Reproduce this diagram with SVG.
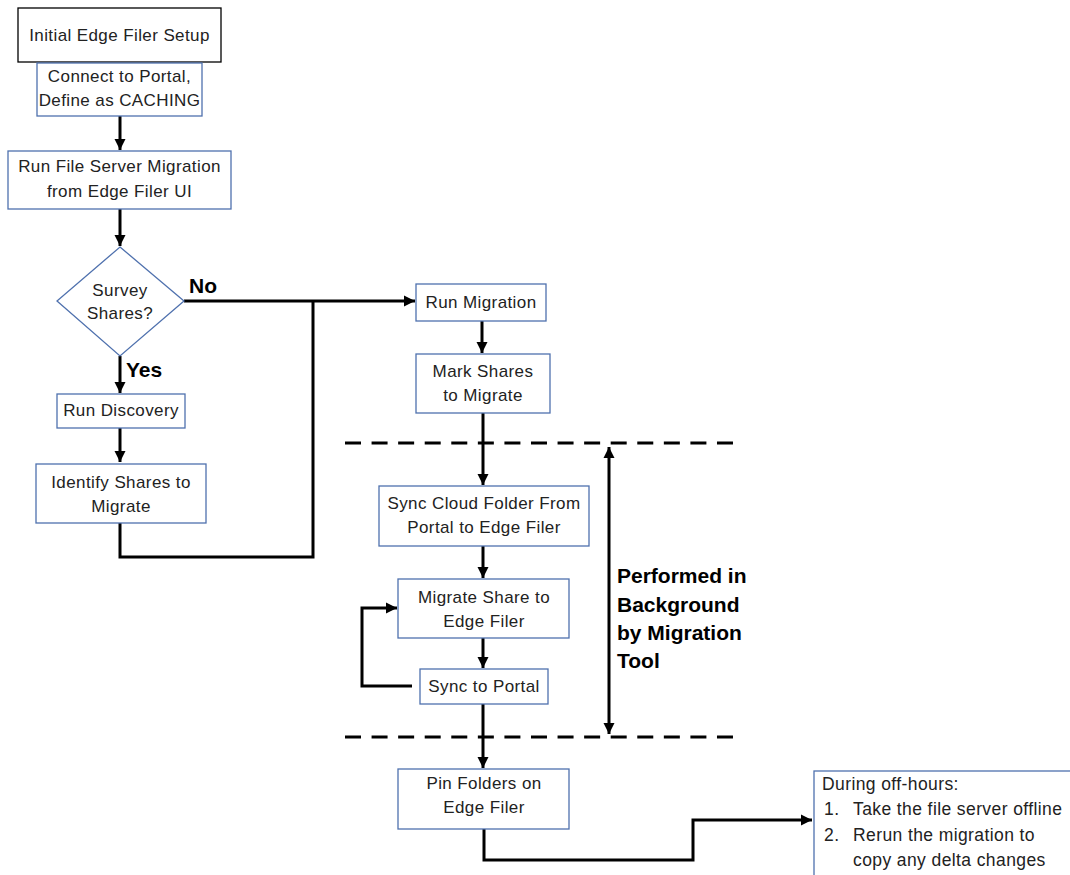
<svg xmlns="http://www.w3.org/2000/svg" width="1070" height="875" viewBox="0 0 1070 875">
<style>
.box{fill:#fff;stroke:#4F71AE;stroke-width:1.3}
.bbox{fill:#fff;stroke:#000;stroke-width:1.3}
.t{font-family:"Liberation Sans",Arial,sans-serif;font-size:17px;letter-spacing:0.4px;fill:#222;text-anchor:middle}
.tl{font-family:"Liberation Sans",Arial,sans-serif;font-size:17.5px;letter-spacing:0.4px;fill:#222}
.b{font-family:"Liberation Sans",Arial,sans-serif;font-size:21px;font-weight:bold;fill:#000}
.c{fill:none;stroke:#000;stroke-width:3}
.d{fill:none;stroke:#000;stroke-width:3;stroke-dasharray:16 10.57}
</style>
<defs>
<marker id="ah" markerUnits="userSpaceOnUse" markerWidth="12" markerHeight="12" refX="11" refY="6" orient="auto">
<path d="M0,0.5 L11,6 L0,11.5 z" fill="#000"/>
</marker>
<marker id="as" markerUnits="userSpaceOnUse" markerWidth="12" markerHeight="12" refX="11" refY="6" orient="auto-start-reverse">
<path d="M0,0.5 L11,6 L0,11.5 z" fill="#000"/>
</marker>
</defs>
<rect width="1070" height="875" fill="#fff"/>
<g id="connectors">
<line class="c" x1="120" y1="116" x2="120" y2="150" marker-end="url(#ah)"/>
<line class="c" x1="120" y1="209" x2="120" y2="246" marker-end="url(#ah)"/>
<line class="c" x1="184" y1="301" x2="415" y2="301" marker-end="url(#ah)"/>
<line class="c" x1="120" y1="356" x2="120" y2="393" marker-end="url(#ah)"/>
<line class="c" x1="120" y1="428" x2="120" y2="462" marker-end="url(#ah)"/>
<polyline class="c" points="120,523 120,557 313,557 313,301"/>
<line class="c" x1="482" y1="321" x2="482" y2="353" marker-end="url(#ah)"/>
<line class="c" x1="483" y1="413" x2="483" y2="485" marker-end="url(#ah)"/>
<line class="c" x1="483" y1="546" x2="483" y2="578" marker-end="url(#ah)"/>
<line class="c" x1="483" y1="638" x2="483" y2="668" marker-end="url(#ah)"/>
<polyline class="c" points="412,686 362,686 362,608 397,608" marker-end="url(#ah)"/>
<line class="c" x1="483" y1="704" x2="483" y2="768" marker-end="url(#ah)"/>
<polyline class="c" points="484,829 484,860 693,860 693,820 812,820" marker-end="url(#ah)"/>
<line class="d" x1="345" y1="443" x2="733" y2="443"/>
<line class="d" x1="345" y1="737" x2="733" y2="737"/>
<line class="c" x1="609" y1="447" x2="609" y2="734" marker-start="url(#as)" marker-end="url(#ah)"/>
</g>
<g id="n1"><rect class="bbox" x="18" y="8" width="203" height="54"/><text class="t" x="119.5" y="41">Initial Edge Filer Setup</text></g>
<g id="n2"><rect class="box" x="37" y="63" width="165" height="53"/><text class="t" x="119.5" y="82">Connect to Portal,</text><text class="t" x="119.5" y="106">Define as CACHING</text></g>
<g id="n3"><rect class="box" x="8" y="151" width="223" height="58"/><text class="t" x="119.5" y="172">Run File Server Migration</text><text class="t" x="119.5" y="197">from Edge Filer UI</text></g>
<g id="n4"><polygon class="box" points="120,247 184,301 120,356 57,301"/><text class="t" x="120" y="296">Survey</text><text class="t" x="120" y="319">Shares?</text></g>
<g id="lbl-no"><text class="b" x="189" y="293">No</text></g>
<g id="lbl-yes"><text class="b" x="126" y="377">Yes</text></g>
<g id="n5"><rect class="box" x="57" y="394" width="128" height="34"/><text class="t" x="121" y="416">Run Discovery</text></g>
<g id="n6"><rect class="box" x="36" y="464" width="170" height="59"/><text class="t" x="121" y="488">Identify Shares to</text><text class="t" x="121" y="512">Migrate</text></g>
<g id="n7"><rect class="box" x="416" y="284" width="130" height="37"/><text class="t" x="481" y="308">Run Migration</text></g>
<g id="n8"><rect class="box" x="416" y="354" width="134" height="59"/><text class="t" x="483" y="377">Mark Shares</text><text class="t" x="483" y="401">to Migrate</text></g>
<g id="n9"><rect class="box" x="379" y="486" width="210" height="60"/><text class="t" x="484" y="509">Sync Cloud Folder From</text><text class="t" x="484" y="533">Portal to Edge Filer</text></g>
<g id="n10"><rect class="box" x="398" y="579" width="171" height="59"/><text class="t" x="484" y="603">Migrate Share to</text><text class="t" x="484" y="627">Edge Filer</text></g>
<g id="n11"><rect class="box" x="420" y="669" width="128" height="35"/><text class="t" x="484" y="692">Sync to Portal</text></g>
<g id="n12"><rect class="box" x="398" y="769" width="171" height="60"/><text class="t" x="484" y="789">Pin Folders on</text><text class="t" x="484" y="813">Edge Filer</text></g>
<g id="bg-label"><text class="b" x="617" y="583">Performed in</text><text class="b" x="617" y="612">Background</text><text class="b" x="617" y="640">by Migration</text><text class="b" x="617" y="668">Tool</text></g>
<g id="n13"><rect class="box" x="814" y="771" width="270" height="120"/>
<text class="tl" x="822" y="790">During off-hours:</text>
<text class="tl" x="824" y="815">1.</text><text class="tl" x="853" y="815">Take the file server offline</text>
<text class="tl" x="824" y="841">2.</text><text class="tl" x="853" y="841">Rerun the migration to</text>
<text class="tl" x="853" y="866">copy any delta changes</text>
</g>
</svg>
